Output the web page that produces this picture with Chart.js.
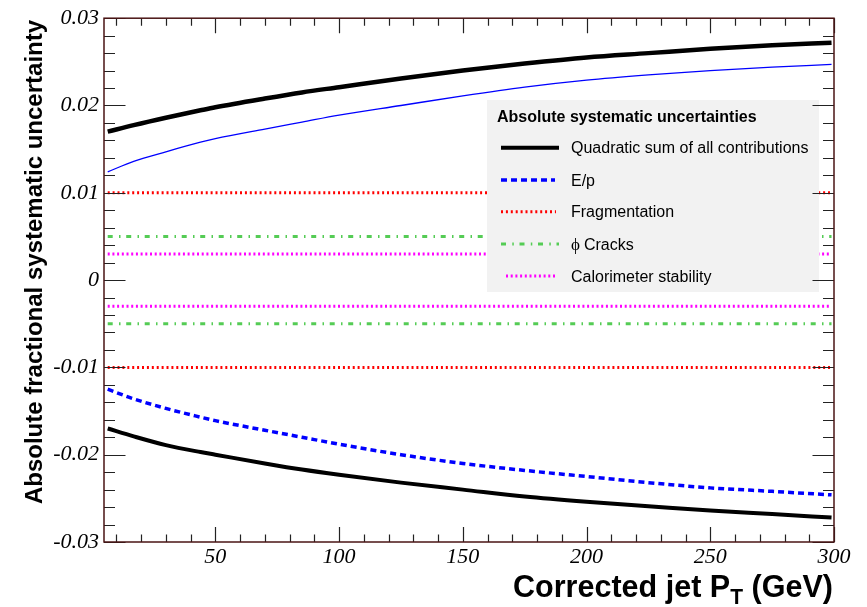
<!DOCTYPE html>
<html>
<head>
<meta charset="utf-8">
<script src="https://cdn.jsdelivr.net/npm/chart.js@4/dist/chart.umd.min.js"></script>
<style>
html,body{margin:0;padding:0;background:#fff;}
canvas{display:block;}
</style>
</head>
<body>
<canvas id="c" width="867" height="607"></canvas>
<script>
// ---- data ----
const ptValues = [6.5, 17, 30, 44, 50, 70, 85, 100, 125, 150, 175, 200, 225, 250, 275, 299];
const quadSumUp   = [0.0170, 0.01775, 0.0186, 0.01945, 0.0198, 0.0208, 0.0215, 0.0221, 0.0231, 0.0240, 0.0248, 0.0255, 0.0260, 0.0265, 0.0269, 0.0272];
const quadSumDown = [-0.0170, -0.0179, -0.0189, -0.0197, -0.0200, -0.0210, -0.0217, -0.0223, -0.0232, -0.0240, -0.0248, -0.0254, -0.0259, -0.0264, -0.0268, -0.0272];
const epUp   = [0.0124, 0.0136, 0.0147, 0.0158, 0.0162, 0.0173, 0.0181, 0.0189, 0.0200, 0.0211, 0.0221, 0.0229, 0.0235, 0.0240, 0.0244, 0.0247];
const epDown = [-0.0125, -0.0136, -0.0147, -0.0157, -0.0161, -0.0172, -0.0180, -0.0188, -0.0200, -0.0210, -0.0218, -0.0225, -0.0232, -0.0238, -0.0242, -0.0246];
const flatPt = [6.5, 299];
const fragUp = [0.01, 0.01];
const fragDown = [-0.01, -0.01];
const cracksUp = [0.005, 0.005];
const cracksDown = [-0.005, -0.005];
const caloUp = [0.003, 0.003];
const caloDown = [-0.003, -0.003];

const xTickValues = [50, 100, 150, 200, 250, 300];
const xTickLabels = ['50', '100', '150', '200', '250', '300'];
const yTickValues = [-0.03, -0.02, -0.01, 0, 0.01, 0.02, 0.03];
const yTickLabels = ['-0.03', '-0.02', '-0.01', '0', '0.01', '0.02', '0.03'];

const legendTitle = 'Absolute systematic uncertainties';
const legendLabels = ['Quadratic sum of all contributions', 'E/p', 'Fragmentation', 'Cracks', 'Calorimeter stability'];
const xTitleMain = 'Corrected jet P';
const xTitleSub = 'T';
const xTitleEnd = ' (GeV)';
const yTitle = 'Absolute fractional systematic uncertainty';

// ---- styles ----
const BLACK = '#000000', BLUE = '#0000ff', RED = '#ff0000', GREEN = '#55cc55', MAGENTA = '#ff00ff';
const styles = {
  quad: {color: BLACK, width: 4.5, dash: []},
  quadDown: {color: BLACK, width: 4, dash: []},
  epUp: {color: BLUE, width: 1.3, dash: []},
  epDown: {color: BLUE, width: 3.5, dash: [6, 4]},
  frag: {color: RED, width: 3, dash: [2, 2.9]},
  cracks: {color: GREEN, width: 3, dash: [5, 6.3, 1.5, 5.7]},
  calo: {color: MAGENTA, width: 3, dash: [2, 2.7]}
};

function pts(xs, ys) { return xs.map((x, i) => ({x: x, y: ys[i]})); }
function ds(xs, ys, st) {
  return {data: pts(xs, ys), borderColor: st.color, borderWidth: st.width, borderDash: st.dash,
    pointRadius: 0, fill: false, cubicInterpolationMode: 'monotone', borderCapStyle: 'butt'};
}

const chromePlugin = {
  id: 'chrome',
  afterDatasetsDraw(chart) {
    const ctx = chart.ctx;
    // legend box
    ctx.save();
    ctx.fillStyle = '#f2f2f2';
    ctx.fillRect(487, 100, 332, 192);
    ctx.fillStyle = '#000';
    ctx.textBaseline = 'alphabetic';
    ctx.font = 'bold 16px "Liberation Sans", Arial, sans-serif';
    ctx.fillText(legendTitle, 497, 121.5);
    ctx.font = '16px "Liberation Sans", Arial, sans-serif';
    const rowY = [147.7, 180, 211.7, 244, 276];
    const sampleStyles = [styles.quad, styles.epDown, styles.frag, styles.cracks, styles.calo];
    const sampleEnd = [559, 555, 556, 559, 556];
    const sampleStart = [501, 501, 501, 501, 506];
    for (let i = 0; i < 5; i++) {
      const st = sampleStyles[i];
      ctx.beginPath();
      ctx.strokeStyle = st.color;
      ctx.lineWidth = i === 0 ? 4 : st.width;
      ctx.setLineDash(st.dash);
      ctx.moveTo(sampleStart[i], rowY[i]);
      ctx.lineTo(sampleEnd[i], rowY[i]);
      ctx.stroke();
      ctx.setLineDash([]);
      ctx.fillStyle = '#000';
      if (i === 3) {
        ctx.font = '17px "Liberation Serif", "DejaVu Serif", serif';
        ctx.fillText('\u03D5', 571, rowY[i] + 5.5);
        const w = ctx.measureText('\u03D5').width;
        ctx.font = '16px "Liberation Sans", Arial, sans-serif';
        ctx.fillText(legendLabels[i], 571 + w + 4, rowY[i] + 5.5);
      } else {
        ctx.fillText(legendLabels[i], 571, rowY[i] + 5.5);
      }
    }
    ctx.restore();
  },
  afterDraw(chart) {
    const ctx = chart.ctx;
    const a = chart.chartArea;
    const xs = chart.scales.x, ys = chart.scales.y;
    ctx.save();
    ctx.lineWidth = 1.2;
    ctx.strokeStyle = '#222';
    ctx.beginPath();
    // x ticks (bottom & top)
    for (let v = 10; v <= 300; v += 10) {
      const px = Math.round(xs.getPixelForValue(v)) + 0.5;
      const len = (v % 50 === 0) ? 15 : 7.5;
      ctx.moveTo(px, a.bottom); ctx.lineTo(px, a.bottom - len);
      ctx.moveTo(px, a.top); ctx.lineTo(px, a.top + len);
    }
    // y ticks (left & right)
    for (let k = -15; k <= 15; k++) {
      const v = k * 0.002;
      const py = Math.round(ys.getPixelForValue(v)) + 0.5;
      const len = (k % 5 === 0) ? 21.5 : 11;
      ctx.moveTo(a.left, py); ctx.lineTo(a.left + len, py);
      ctx.moveTo(a.right, py); ctx.lineTo(a.right - len, py);
    }
    ctx.stroke();
    // frame
    ctx.strokeStyle = '#4a1414';
    ctx.lineWidth = 1.5;
    ctx.strokeRect(a.left, a.top, a.right - a.left, a.bottom - a.top);
    // axis titles
    ctx.fillStyle = '#000';
    ctx.textBaseline = 'alphabetic';
    // x title, right aligned at 833, slightly condensed
    const fMain = 'bold 32px "Liberation Sans", Arial, sans-serif';
    const fSub = 'bold 22px "Liberation Sans", Arial, sans-serif';
    ctx.font = fMain;
    const wMain = ctx.measureText(xTitleMain).width;
    const wEnd = ctx.measureText(xTitleEnd).width;
    ctx.font = fSub;
    const wSub = ctx.measureText(xTitleSub).width;
    const total = wMain + wSub + wEnd;
    const sx = 320 / total;
    ctx.save();
    ctx.translate(513, 597);
    ctx.scale(sx, 1);
    ctx.font = fMain;
    ctx.fillText(xTitleMain, 0, 0);
    ctx.font = fSub;
    ctx.fillText(xTitleSub, wMain, 7);
    ctx.font = fMain;
    ctx.fillText(xTitleEnd, wMain + wSub, 0);
    ctx.restore();
    // y title
    ctx.translate(41.5, 262);
    ctx.rotate(-Math.PI / 2);
    ctx.font = 'bold 24px "Liberation Sans", Arial, sans-serif';
    ctx.textAlign = 'center';
    ctx.fillText(yTitle, 0, 0);
    ctx.restore();
  }
};

const tickFont = {family: '"Liberation Serif", "Times New Roman", serif', size: 22, style: 'italic'};

new Chart(document.getElementById('c'), {
  type: 'line',
  data: {
    datasets: [
      ds(flatPt, fragUp, styles.frag),
      ds(flatPt, fragDown, styles.frag),
      ds(flatPt, cracksUp, styles.cracks),
      ds(flatPt, cracksDown, styles.cracks),
      ds(flatPt, caloUp, styles.calo),
      ds(flatPt, caloDown, styles.calo),
      ds(ptValues, epUp, styles.epUp),
      ds(ptValues, epDown, styles.epDown),
      ds(ptValues, quadSumUp, styles.quad),
      ds(ptValues, quadSumDown, styles.quadDown)
    ]
  },
  options: {
    responsive: false,
    animation: false,
    events: [],
    layout: {padding: {top: 18, right: 33, left: 0, bottom: 0}},
    plugins: {legend: {display: false}, tooltip: {enabled: false}, title: {display: false}},
    scales: {
      x: {
        type: 'linear', min: 5, max: 300,
        grid: {display: false, drawTicks: false},
        border: {display: false},
        afterBuildTicks: s => { s.ticks = xTickValues.map(v => ({value: v})); },
        afterFit: s => { s.height = 65; },
        ticks: {callback: (v, i) => xTickLabels[i], font: tickFont, color: '#000', padding: 2, maxRotation: 0, autoSkip: false}
      },
      y: {
        type: 'linear', min: -0.03, max: 0.03,
        grid: {display: false, drawTicks: false},
        border: {display: false},
        afterBuildTicks: s => { s.ticks = yTickValues.map(v => ({value: v})); },
        afterFit: s => { s.width = 104; },
        ticks: {callback: (v, i) => yTickLabels[i], font: tickFont, color: '#000', padding: 5, autoSkip: false}
      }
    }
  },
  plugins: [chromePlugin]
});
</script>
</body>
</html>
